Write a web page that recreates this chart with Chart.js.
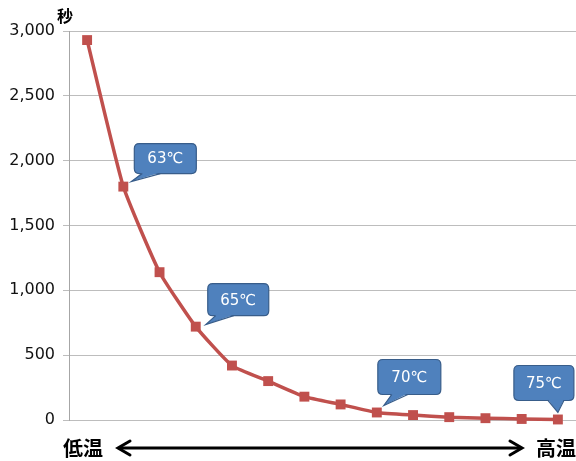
<!DOCTYPE html>
<html>
<head>
<meta charset="utf-8">
<script src="https://cdn.jsdelivr.net/npm/chart.js@4/dist/chart.umd.min.js"></script>
<style>
  html, body { margin: 0; padding: 0; background: #fff; }
  #wrap { width: 576px; height: 461px; position: relative; }
</style>
</head>
<body>
<div id="wrap"><canvas id="timeChart"></canvas></div>
<script>
// temperature steps (℃) and holding time (seconds)
const temps = [62, 63, 64, 65, 66, 67, 68, 69, 70, 71, 72, 73, 74, 75];
const seconds = [2930, 1800, 1140, 720, 420, 300, 180, 120, 58, 38, 22, 14, 8, 4];
const yTicks = [0, 500, 1000, 1500, 2000, 2500, 3000];
const calloutTemps = [63, 65, 70, 75];

// callout box placement relative to its point: [dx, dy, width, height, tailFrom, tailTo, tipDx, tipDy]
const calloutStyle = {
  63: [11, -43, 62, 30, 8, 26, 8, -5],
  65: [12, -43, 61, 32, 8, 26, 10, -2],
  70: [1, -53, 63, 35, 14, 30, 7, -7],
  75: [-44, -54, 60, 35, 34, 50, 0, -7]
};

const numFmt = v => v.toLocaleString('en-US');

function roundRect(ctx, x, y, w, h, r) {
  ctx.beginPath();
  ctx.moveTo(x + r, y);
  ctx.lineTo(x + w - r, y);
  ctx.quadraticCurveTo(x + w, y, x + w, y + r);
  ctx.lineTo(x + w, y + h - r);
  ctx.quadraticCurveTo(x + w, y + h, x + w - r, y + h);
  ctx.lineTo(x + r, y + h);
  ctx.quadraticCurveTo(x, y + h, x, y + h - r);
  ctx.lineTo(x, y + r);
  ctx.quadraticCurveTo(x, y, x + r, y);
  ctx.closePath();
}

const extras = {
  id: 'extras',
  afterDraw(chart) {
    const ctx = chart.ctx;
    const xs = chart.scales.x, ys = chart.scales.y;
    const area = chart.chartArea;
    ctx.save();

    // unit label
    ctx.fillStyle = '#000';
    ctx.font = 'bold 16px "Noto Sans CJK JP"';
    ctx.textAlign = 'center';
    ctx.textBaseline = 'middle';
    ctx.fillText('秒', 65, 16);

    // callouts
    calloutTemps.forEach(t => {
      const i = temps.indexOf(t);
      const px = xs.getPixelForValue(i);
      const py = ys.getPixelForValue(seconds[i]);
      const [dx, dy, w, h, tf, tt, tipDx, tipDy] = calloutStyle[t];
      const bx = px + dx, by = py + dy;
      roundRect(ctx, bx, by, w, h, 5);
      ctx.fillStyle = '#4F81BD';
      ctx.fill();
      ctx.strokeStyle = '#385D8A';
      ctx.lineWidth = 1.2;
      ctx.stroke();
      // tail
      ctx.beginPath();
      ctx.moveTo(bx + tf, by + h - 1);
      ctx.lineTo(px + tipDx, py + tipDy);
      ctx.lineTo(bx + tt, by + h - 1);
      ctx.closePath();
      ctx.fillStyle = '#4F81BD';
      ctx.fill();
      ctx.beginPath();
      ctx.moveTo(bx + tf, by + h);
      ctx.lineTo(px + tipDx, py + tipDy);
      ctx.lineTo(bx + tt, by + h);
      ctx.stroke();
      ctx.fillStyle = '#fff';
      ctx.font = '15px "DejaVu Sans"';
      ctx.textAlign = 'center';
      ctx.textBaseline = 'middle';
      ctx.fillText(t + '℃', bx + w / 2, by + h / 2 + 1);
    });

    // low -> high temperature arrow under the plot
    const ay = area.bottom + 28;
    ctx.fillStyle = '#000';
    ctx.font = 'bold 20px "Noto Sans CJK JP"';
    ctx.textBaseline = 'middle';
    ctx.textAlign = 'left';
    ctx.fillText('低温', 63, ay);
    ctx.textAlign = 'right';
    ctx.fillText('高温', 576, ay);
    const x1 = 118, x2 = 522;
    ctx.strokeStyle = '#000';
    ctx.lineWidth = 3;
    ctx.lineCap = 'round';
    ctx.lineJoin = 'miter';
    ctx.beginPath();
    ctx.moveTo(x1 + 2, ay);
    ctx.lineTo(x2 - 2, ay);
    ctx.stroke();
    ctx.beginPath();
    ctx.moveTo(x1 + 12, ay - 7);
    ctx.lineTo(x1, ay);
    ctx.lineTo(x1 + 12, ay + 7);
    ctx.moveTo(x2 - 12, ay - 7);
    ctx.lineTo(x2, ay);
    ctx.lineTo(x2 - 12, ay + 7);
    ctx.stroke();
    ctx.restore();
  }
};

new Chart(document.getElementById('timeChart'), {
  type: 'line',
  data: {
    labels: temps.map(t => t + '℃'),
    datasets: [{
      data: seconds,
      borderColor: '#C0504D',
      backgroundColor: '#C0504D',
      borderWidth: 3.5,
      pointStyle: 'rect',
      pointRadius: 7,
      pointBorderWidth: 0,
      tension: 0.15,
      clip: false
    }]
  },
  options: {
    responsive: true,
    maintainAspectRatio: false,
    animation: false,
    layout: { autoPadding: false, padding: { top: 31, right: 0, bottom: 41, left: 0 } },
    plugins: { legend: { display: false }, tooltip: { enabled: false } },
    scales: {
      x: {
        type: 'category',
        offset: true,
        display: false
      },
      y: {
        min: 0,
        max: 3000,
        afterFit: s => { s.width = 69; },
        afterBuildTicks: s => { s.ticks = yTicks.map(v => ({ value: v })); },
        grid: { color: '#bdbdbd', lineWidth: 1, tickLength: 6 },
        border: { color: '#a6a6a6', width: 1 },
        ticks: {
          color: '#111',
          font: { family: '"DejaVu Sans"', size: 16 },
          padding: 8,
          callback: v => numFmt(v)
        }
      }
    }
  },
  plugins: [extras]
});
</script>
</body>
</html>
